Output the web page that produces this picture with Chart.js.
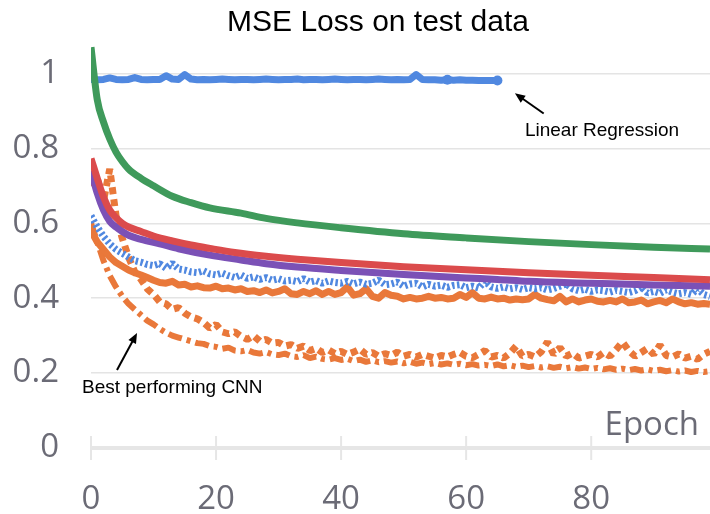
<!DOCTYPE html>
<html>
<head>
<meta charset="utf-8">
<script src="https://cdn.jsdelivr.net/npm/chart.js@4"></script>
<style>
    html, body { margin: 0; padding: 0; background: #fff; }
    canvas { display: block; }
</style>
</head>
<body>
<canvas id="loss-chart" width="710" height="514"></canvas>
<script>
const xTicks = [0, 20, 40, 60, 80]
const yTicks = [0, 0.2, 0.4, 0.6, 0.8, 1]

// гладкие кривые — только опорные эпохи
const greenEpochs = [0, 1, 2, 3, 4, 5, 6, 8, 10, 13, 16, 19, 24, 28, 33, 40, 50, 60, 70, 80, 90, 99]
const greenLoss = [1.07, 0.93, 0.87, 0.825, 0.79, 0.765, 0.745, 0.72, 0.70, 0.672, 0.655, 0.641, 0.627, 0.613, 0.601, 0.588, 0.572, 0.561, 0.551, 0.543, 0.536, 0.531]

const redEpochs = [0, 1, 2, 3, 4, 5, 6, 8, 10, 13, 16, 19, 23, 28, 33, 40, 50, 60, 65, 70, 80, 90, 99]
const redLoss = [0.773, 0.72, 0.67, 0.635, 0.615, 0.60, 0.59, 0.578, 0.566, 0.553, 0.542, 0.533, 0.522, 0.512, 0.504, 0.495, 0.484, 0.476, 0.472, 0.468, 0.461, 0.455, 0.449]

const purpleEpochs = [0, 1, 2, 3, 4, 5, 6, 8, 11, 14, 19, 24, 28, 33, 40, 50, 60, 65, 70, 80, 90, 99]
const purpleLoss = [0.74, 0.68, 0.635, 0.605, 0.59, 0.578, 0.568, 0.557, 0.545, 0.532, 0.515, 0.502, 0.492, 0.483, 0.474, 0.463, 0.454, 0.45, 0.445, 0.44, 0.435, 0.432]

// шумные кривые — по каждой эпохе, начиная с 0
const linRegLoss = [
    0.984, 0.983, 0.984, 0.988, 0.984, 0.983, 0.984, 0.989, 0.984, 0.983,
    0.984, 0.984, 0.994, 0.985, 0.984, 0.997, 0.985, 0.983, 0.984, 0.983,
    0.984, 0.985, 0.984, 0.983, 0.984, 0.984, 0.983, 0.984, 0.985, 0.984,
    0.983, 0.984, 0.984, 0.985, 0.983, 0.984, 0.984, 0.983, 0.984, 0.985,
    0.984, 0.983, 0.984, 0.984, 0.983, 0.984, 0.985, 0.984, 0.983, 0.984,
    0.983, 0.984, 0.997, 0.984, 0.983, 0.983, 0.982, 0.983, 0.982, 0.983,
    0.982, 0.982, 0.981, 0.981, 0.981, 0.981
]
const linRegMarkers = [57, 65]

const blueDotLoss = [
    0.62, 0.59, 0.565, 0.545, 0.53, 0.52, 0.51, 0.50, 0.496, 0.49,
    0.487, 0.492, 0.48, 0.493, 0.478, 0.475, 0.47, 0.468, 0.473, 0.465,
    0.462, 0.467, 0.46, 0.455, 0.462, 0.453, 0.457, 0.45, 0.455, 0.448,
    0.452, 0.446, 0.448, 0.444, 0.452, 0.443, 0.447, 0.44, 0.446, 0.442,
    0.44, 0.445, 0.438, 0.443, 0.437, 0.44, 0.448, 0.436, 0.438, 0.443,
    0.432, 0.438, 0.44, 0.43, 0.437, 0.432, 0.435, 0.429, 0.434, 0.436,
    0.428, 0.432, 0.427, 0.445, 0.43, 0.426, 0.43, 0.425, 0.428, 0.423,
    0.428, 0.425, 0.428, 0.422, 0.426, 0.432, 0.438, 0.425, 0.42, 0.424,
    0.418, 0.422, 0.42, 0.416, 0.421, 0.418, 0.415, 0.42, 0.43, 0.414,
    0.418, 0.413, 0.422, 0.416, 0.412, 0.415, 0.41, 0.425, 0.41, 0.405
]

const orangeLoss = [
    0.58, 0.55, 0.53, 0.51, 0.495, 0.485, 0.475, 0.468, 0.462, 0.455,
    0.448, 0.442, 0.44, 0.445, 0.435, 0.437, 0.43, 0.433, 0.428, 0.427,
    0.432, 0.425, 0.427, 0.422, 0.425, 0.418, 0.42, 0.415, 0.422, 0.414,
    0.418, 0.425, 0.412, 0.41, 0.418, 0.412, 0.42, 0.41, 0.418, 0.41,
    0.415, 0.43, 0.408, 0.412, 0.425, 0.405, 0.40, 0.415, 0.408, 0.405,
    0.398, 0.402, 0.398, 0.40, 0.405, 0.40, 0.402, 0.398, 0.40, 0.41,
    0.402, 0.415, 0.40, 0.398, 0.403, 0.398, 0.40, 0.395, 0.398, 0.396,
    0.398, 0.41, 0.40, 0.396, 0.393, 0.405, 0.39, 0.398, 0.39, 0.395,
    0.398, 0.392, 0.39, 0.394, 0.39, 0.398, 0.388, 0.39, 0.395, 0.385,
    0.39, 0.394, 0.388, 0.398, 0.39, 0.385, 0.388, 0.384, 0.386, 0.384
]

const orangeDashLoss = [
    0.70, 0.72, 0.66, 0.745, 0.62, 0.56, 0.51, 0.47, 0.45, 0.425,
    0.41, 0.39, 0.385, 0.37, 0.375, 0.36, 0.35, 0.345, 0.335, 0.32,
    0.33, 0.31, 0.305, 0.31, 0.298, 0.29, 0.30, 0.285, 0.29, 0.28,
    0.282, 0.272, 0.276, 0.266, 0.272, 0.26, 0.266, 0.255, 0.262, 0.252,
    0.258, 0.25, 0.256, 0.264, 0.25, 0.255, 0.245, 0.252, 0.247, 0.256,
    0.245, 0.25, 0.243, 0.25, 0.245, 0.24, 0.247, 0.243, 0.25, 0.255,
    0.245, 0.241, 0.25, 0.26, 0.243, 0.247, 0.24, 0.253, 0.272, 0.245,
    0.25, 0.243, 0.257, 0.283, 0.25, 0.268, 0.245, 0.253, 0.24, 0.245,
    0.25, 0.243, 0.255, 0.245, 0.263, 0.283, 0.26, 0.245, 0.255, 0.266,
    0.25, 0.275, 0.247, 0.243, 0.251, 0.24, 0.245, 0.237, 0.25, 0.258
]

const bestCnnLoss = [
    0.60, 0.55, 0.50, 0.46, 0.43, 0.405, 0.385, 0.37, 0.355, 0.34,
    0.33, 0.318, 0.308, 0.30, 0.295, 0.29, 0.285, 0.28, 0.278, 0.272,
    0.27, 0.265, 0.268, 0.26, 0.258, 0.262, 0.255, 0.252, 0.256, 0.25,
    0.248, 0.252, 0.245, 0.243, 0.248, 0.24, 0.244, 0.238, 0.236, 0.24,
    0.235, 0.238, 0.232, 0.236, 0.23, 0.234, 0.229, 0.232, 0.228, 0.231,
    0.226, 0.23, 0.225, 0.228, 0.224, 0.227, 0.223, 0.226, 0.222, 0.225,
    0.221, 0.224, 0.22, 0.222, 0.219, 0.223, 0.218, 0.221, 0.217, 0.22,
    0.216, 0.219, 0.215, 0.218, 0.214, 0.217, 0.213, 0.216, 0.212, 0.215,
    0.211, 0.214, 0.21, 0.213, 0.209, 0.212, 0.208, 0.211, 0.207, 0.21,
    0.206, 0.209, 0.205, 0.208, 0.204, 0.207, 0.203, 0.206, 0.203, 0.205
]

const GRAY_TEXT = '#6b6b76'
const AXIS_GRAY = '#e6e6e6'

function pairs(xs, ys) {
    return ys.map((v, i) => ({ x: xs[i], y: v }))
}
function byEpoch(ys) {
    return ys.map((v, i) => ({ x: i, y: v }))
}

// убираем внутренние отступы шкал, чтобы область графика была точно где надо
function noScalePadding(s) {
    s.paddingTop = 0
    s.paddingBottom = 0
    s.paddingLeft = 0
    s.paddingRight = 0
}

function arrow(ctx, x1, y1, x2, y2) {
    const a = Math.atan2(y2 - y1, x2 - x1)
    const head = 11
    ctx.beginPath()
    ctx.moveTo(x1, y1)
    ctx.lineTo(x2 - Math.cos(a) * 6, y2 - Math.sin(a) * 6)
    ctx.stroke()
    ctx.beginPath()
    ctx.moveTo(x2, y2)
    ctx.lineTo(x2 - head * Math.cos(a - 0.4), y2 - head * Math.sin(a - 0.4))
    ctx.lineTo(x2 - head * Math.cos(a + 0.4), y2 - head * Math.sin(a + 0.4))
    ctx.closePath()
    ctx.fill()
}

// ось X, засечки, заголовок и подписи
const decorations = {
    id: 'decorations',
    beforeDatasetsDraw(chart) {
        const { ctx, scales: { x, y } } = chart
        const y0 = y.getPixelForValue(0)
        ctx.save()
        ctx.strokeStyle = AXIS_GRAY
        ctx.lineWidth = 4
        ctx.beginPath()
        ctx.moveTo(x.left, y0)
        ctx.lineTo(x.right, y0)
        ctx.stroke()
        ctx.lineWidth = 2
        x.ticks.forEach(t => {
            const px = x.getPixelForValue(t.value)
            ctx.beginPath()
            ctx.moveTo(px, y0 - 12)
            ctx.lineTo(px, y0 + 12)
            ctx.stroke()
        })
        ctx.restore()
    },
    afterDraw(chart) {
        const { ctx, scales: { x, y } } = chart
        ctx.save()
        ctx.fillStyle = '#000'
        ctx.font = '30px "Liberation Sans", Arial, sans-serif'
        ctx.textAlign = 'center'
        ctx.textBaseline = 'alphabetic'
        ctx.fillText('MSE Loss on test data', 378, 31)

        ctx.fillStyle = GRAY_TEXT
        ctx.font = '33px "Open Sans", sans-serif'
        ctx.textAlign = 'right'
        ctx.fillText('Epoch', x.right - 11, y.getPixelForValue(0) - 13)

        ctx.fillStyle = '#000'
        ctx.strokeStyle = '#000'
        ctx.lineWidth = 2
        ctx.font = '19px "Liberation Sans", Arial, sans-serif'
        ctx.textAlign = 'left'
        ctx.fillText('Linear Regression', x.getPixelForValue(69.4), y.getPixelForValue(0.832))
        arrow(ctx, x.getPixelForValue(72.4), y.getPixelForValue(0.893),
            x.getPixelForValue(67.8), y.getPixelForValue(0.947))
        ctx.fillText('Best performing CNN', x.getPixelForValue(-1.44), y.getPixelForValue(0.147))
        arrow(ctx, x.getPixelForValue(4.16), y.getPixelForValue(0.208),
            x.getPixelForValue(7.36), y.getPixelForValue(0.307))
        ctx.restore()
    }
}

const ctx = document.querySelector('#loss-chart')

new Chart(ctx, {
    type: 'line',
    data: {
        datasets: [
            {
                label: 'Green',
                data: pairs(greenEpochs, greenLoss),
                borderColor: '#3f9a5b',
                borderWidth: 7,
                cubicInterpolationMode: 'monotone',
                pointRadius: 0
            },
            {
                label: 'Linear Regression',
                data: byEpoch(linRegLoss),
                borderColor: '#5088e0',
                backgroundColor: '#5088e0',
                borderWidth: 7,
                borderJoinStyle: 'round',
                pointRadius: c => linRegMarkers.includes(c.dataIndex) ? 5 : 0,
                pointBorderWidth: 0
            },
            {
                label: 'Red',
                data: pairs(redEpochs, redLoss),
                borderColor: '#db4b4c',
                borderWidth: 7,
                cubicInterpolationMode: 'monotone',
                pointRadius: 0
            },
            {
                label: 'Purple',
                data: pairs(purpleEpochs, purpleLoss),
                borderColor: '#7b51b6',
                borderWidth: 7,
                cubicInterpolationMode: 'monotone',
                pointRadius: 0
            },
            {
                label: 'Blue dotted',
                data: byEpoch(blueDotLoss),
                borderColor: '#5088e0',
                borderWidth: 7,
                borderDash: [2.5, 2.5],
                borderJoinStyle: 'bevel',
                pointRadius: 0
            },
            {
                label: 'Orange',
                data: byEpoch(orangeLoss),
                borderColor: '#e9783a',
                borderWidth: 7,
                borderJoinStyle: 'round',
                pointRadius: 0
            },
            {
                label: 'Orange dashed',
                data: byEpoch(orangeDashLoss),
                borderColor: '#e9783a',
                borderWidth: 7,
                borderDash: [7, 5],
                borderJoinStyle: 'bevel',
                pointRadius: 0
            },
            {
                label: 'Best performing CNN',
                data: byEpoch(bestCnnLoss),
                borderColor: '#e9783a',
                borderWidth: 6,
                borderDash: [14, 5, 4, 5],
                borderJoinStyle: 'bevel',
                pointRadius: 0
            }
        ]
    },
    options: {
        responsive: false,
        animation: false,
        layout: { autoPadding: false, padding: { top: 36, right: 0, left: 0, bottom: 0 } },
        plugins: {
            legend: { display: false },
            title: { display: false },
            tooltip: { enabled: false }
        },
        scales: {
            x: {
                type: 'linear',
                min: 0,
                max: 99,
                afterBuildTicks: s => { s.ticks = xTicks.map(v => ({ value: v })) },
                afterFit: s => { s.height = 66; noScalePadding(s) },
                border: { display: false },
                grid: { display: false },
                ticks: {
                    color: GRAY_TEXT,
                    font: { family: 'Open Sans', size: 33 },
                    padding: 24,
                    maxRotation: 0
                }
            },
            y: {
                min: 0,
                max: 1.1,
                afterBuildTicks: s => { s.ticks = yTicks.map(v => ({ value: v })) },
                afterFit: s => { s.width = 91; noScalePadding(s) },
                border: { display: false },
                grid: {
                    drawTicks: false,
                    lineWidth: 1.5,
                    color: c => c.tick && c.tick.value === 0 ? 'rgba(0,0,0,0)' : '#e4e4e4'
                },
                ticks: {
                    color: GRAY_TEXT,
                    font: { family: 'Open Sans', size: 33 },
                    padding: 32,
                    callback: v => String(Math.round(v * 10) / 10)
                }
            }
        }
    },
    plugins: [decorations]
})
</script>
</body>
</html>
